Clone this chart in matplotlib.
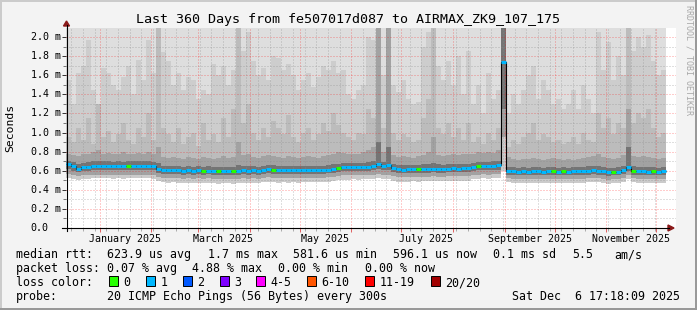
import numpy as np
import matplotlib
matplotlib.use('Agg')
import matplotlib.pyplot as plt
import matplotlib.dates as mdates
from matplotlib.transforms import blended_transform_factory
from matplotlib.patches import Rectangle, Polygon
from matplotlib.lines import Line2D
from datetime import datetime, timedelta

# ---- data (3-day bins, ms) ----
end_time = datetime(2025, 12, 6, 17, 18, 9)
span_days = 360
bin_days = 3

median = [
    0.665, 0.645, 0.622, 0.635, 0.642, 0.648, 0.650, 0.652, 0.650, 0.648, 0.650, 0.648, 0.650, 0.652, 0.650, 0.652, 0.650, 0.648, 0.615, 0.608,
    0.605, 0.608, 0.605, 0.602, 0.605, 0.600, 0.603, 0.598, 0.602, 0.600, 0.596, 0.600, 0.598, 0.595, 0.600, 0.605, 0.600, 0.603, 0.600, 0.608,
    0.618, 0.612, 0.605, 0.608, 0.605, 0.608, 0.605, 0.608, 0.610, 0.608, 0.610, 0.608, 0.612, 0.620, 0.630, 0.635, 0.638, 0.640, 0.638, 0.642,
    0.640, 0.652, 0.665, 0.645, 0.655, 0.625, 0.615, 0.612, 0.615, 0.618, 0.615, 0.620, 0.618, 0.622, 0.620, 0.618, 0.622, 0.625, 0.622, 0.625,
    0.625, 0.640, 0.648, 0.650, 0.648, 0.652, 0.655, 1.740, 0.600, 0.592, 0.590, 0.592, 0.590, 0.595, 0.592, 0.590, 0.592, 0.595, 0.590, 0.592,
    0.590, 0.592, 0.595, 0.592, 0.600, 0.605, 0.600, 0.592, 0.585, 0.588, 0.590, 0.605, 0.640, 0.600, 0.592, 0.595, 0.590, 0.592, 0.590, 0.592,
]
green_bins = [12, 27, 30, 33, 41, 54, 70, 82, 97, 99, 109, 113, 117]

# smoke: upper edges of grey bands (outer -> inner)
smoke_hi4 = [
    1.55, 1.30, 1.62, 1.70, 1.97, 1.45, 1.30, 1.68, 1.62, 1.50, 1.45, 1.58, 1.70, 1.40, 1.76, 1.55, 1.97, 1.62, 2.20, 1.84,
    1.75, 1.50, 1.62, 1.45, 1.58, 1.55, 1.35, 1.45, 1.40, 1.72, 1.60, 1.70, 1.50, 1.65, 2.20, 1.85, 2.05, 1.75, 1.60, 1.68,
    1.55, 1.80, 1.78, 1.65, 1.72, 1.60, 1.45, 1.55, 1.62, 1.48, 1.58, 1.70, 1.65, 1.75, 1.62, 1.65, 1.40, 1.35, 1.45, 1.50,
    2.00, 1.97, 2.20, 1.60, 2.20, 1.50, 1.42, 1.55, 1.35, 1.30, 1.32, 1.90, 2.05, 2.20, 1.70, 1.55, 1.75, 1.50, 1.80, 1.40,
    1.85, 1.30, 1.50, 1.20, 1.62, 1.35, 1.45, 2.20, 1.20, 1.40, 1.30, 1.45, 1.60, 1.70, 1.35, 1.55, 1.45, 1.30, 1.35, 1.25,
    1.30, 1.45, 1.25, 1.50, 1.35, 1.20, 2.05, 1.65, 1.95, 1.55, 1.80, 1.60, 2.20, 1.85, 2.00, 1.90, 2.02, 1.75, 1.60, 1.65,
]
smoke_hi3 = [
    0.95, 0.90, 1.05, 0.92, 1.15, 0.88, 1.30, 0.95, 1.02, 0.90, 0.98, 1.10, 0.92, 0.88, 1.05, 0.95, 1.20, 0.92, 2.20, 1.05,
    0.98, 0.90, 1.05, 0.88, 0.95, 1.00, 0.86, 1.10, 0.92, 0.98, 0.90, 1.15, 0.95, 1.25, 2.20, 1.10, 1.30, 1.00, 0.92, 1.05,
    0.95, 1.12, 1.05, 0.98, 1.18, 0.95, 0.90, 1.00, 1.05, 0.92, 0.98, 1.10, 1.02, 1.20, 1.08, 1.00, 0.95, 0.92, 1.00, 0.98,
    1.25, 1.15, 2.20, 1.05, 2.20, 1.00, 0.92, 0.98, 0.95, 0.90, 0.92, 1.15, 1.35, 2.20, 1.05, 0.98, 1.10, 0.95, 1.05, 0.92,
    1.10, 0.90, 0.95, 0.88, 1.00, 0.92, 1.05, 2.20, 0.85, 0.92, 0.88, 0.95, 1.00, 1.10, 0.92, 0.98, 0.95, 0.90, 0.92, 0.88,
    0.90, 0.95, 0.88, 1.00, 0.92, 0.90, 1.20, 1.05, 1.15, 0.98, 1.10, 1.05, 2.20, 1.10, 1.20, 1.15, 1.25, 1.05, 0.95, 1.00,
]
smoke_hi2 = [
    0.78, 0.76, 0.75, 0.77, 0.78, 0.80, 0.82, 0.78, 0.79, 0.77, 0.78, 0.80, 0.78, 0.77, 0.79, 0.78, 0.80, 0.78, 0.85, 0.74,
    0.73, 0.74, 0.73, 0.72, 0.74, 0.73, 0.72, 0.74, 0.73, 0.72, 0.73, 0.75, 0.73, 0.74, 0.90, 0.76, 0.78, 0.74, 0.73, 0.75,
    0.76, 0.75, 0.74, 0.73, 0.75, 0.74, 0.73, 0.74, 0.75, 0.74, 0.73, 0.75, 0.76, 0.78, 0.80, 0.79, 0.78, 0.77, 0.78, 0.80,
    0.82, 0.85, 2.20, 0.80, 2.20, 0.76, 0.74, 0.75, 0.74, 0.73, 0.75, 0.76, 0.80, 0.95, 0.76, 0.75, 0.76, 0.77, 0.76, 0.77,
    0.77, 0.78, 0.80, 0.79, 0.80, 0.79, 0.82, 2.20, 0.74, 0.72, 0.71, 0.72, 0.72, 0.73, 0.72, 0.71, 0.72, 0.73, 0.72, 0.71,
    0.72, 0.71, 0.72, 0.73, 0.74, 0.75, 0.78, 0.74, 0.73, 0.72, 0.73, 0.76, 1.25, 0.75, 0.74, 0.75, 0.74, 0.73, 0.72, 0.73,
]
smoke_hi1 = [
    0.70, 0.69, 0.67, 0.68, 0.69, 0.70, 0.70, 0.70, 0.70, 0.69, 0.70, 0.69, 0.70, 0.70, 0.70, 0.70, 0.70, 0.69, 0.68, 0.65,
    0.645, 0.65, 0.645, 0.64, 0.645, 0.64, 0.645, 0.64, 0.645, 0.64, 0.635, 0.64, 0.64, 0.635, 0.66, 0.645, 0.645, 0.645, 0.64, 0.65,
    0.66, 0.655, 0.645, 0.65, 0.645, 0.65, 0.645, 0.65, 0.65, 0.65, 0.65, 0.65, 0.655, 0.665, 0.675, 0.68, 0.68, 0.68, 0.68, 0.685,
    0.69, 0.70, 0.90, 0.69, 0.85, 0.67, 0.655, 0.655, 0.66, 0.66, 0.655, 0.665, 0.665, 0.68, 0.665, 0.66, 0.665, 0.67, 0.665, 0.67,
    0.67, 0.685, 0.695, 0.695, 0.69, 0.70, 0.70, 2.20, 0.64, 0.635, 0.63, 0.635, 0.63, 0.635, 0.635, 0.63, 0.635, 0.64, 0.63, 0.635,
    0.63, 0.635, 0.64, 0.635, 0.645, 0.65, 0.645, 0.635, 0.63, 0.63, 0.635, 0.65, 0.85, 0.645, 0.635, 0.64, 0.635, 0.635, 0.63, 0.635,
]
# smoke: lower edges (inner -> outer)
smoke_lo1 = [
    0.62, 0.60, 0.585, 0.595, 0.60, 0.605, 0.61, 0.61, 0.61, 0.605, 0.61, 0.605, 0.61, 0.61, 0.61, 0.61, 0.61, 0.605, 0.575, 0.57,
    0.565, 0.57, 0.565, 0.56, 0.565, 0.56, 0.565, 0.56, 0.565, 0.56, 0.555, 0.56, 0.56, 0.555, 0.56, 0.565, 0.56, 0.565, 0.56, 0.57,
    0.575, 0.57, 0.565, 0.57, 0.565, 0.57, 0.565, 0.57, 0.57, 0.57, 0.57, 0.57, 0.575, 0.58, 0.59, 0.595, 0.595, 0.60, 0.595, 0.60,
    0.60, 0.61, 0.62, 0.605, 0.61, 0.585, 0.575, 0.575, 0.575, 0.58, 0.575, 0.58, 0.58, 0.585, 0.58, 0.58, 0.585, 0.585, 0.585, 0.585,
    0.585, 0.60, 0.605, 0.61, 0.605, 0.61, 0.61, 1.25, 0.56, 0.555, 0.55, 0.555, 0.55, 0.555, 0.555, 0.55, 0.555, 0.555, 0.55, 0.555,
    0.55, 0.555, 0.555, 0.555, 0.56, 0.565, 0.56, 0.555, 0.545, 0.55, 0.55, 0.565, 0.60, 0.56, 0.555, 0.555, 0.55, 0.555, 0.55, 0.555,
]
smoke_lo2 = [
    0.57, 0.555, 0.545, 0.55, 0.555, 0.56, 0.56, 0.56, 0.56, 0.555, 0.56, 0.555, 0.56, 0.56, 0.56, 0.56, 0.56, 0.555, 0.53, 0.525,
    0.52, 0.525, 0.52, 0.515, 0.52, 0.515, 0.52, 0.515, 0.52, 0.515, 0.51, 0.515, 0.515, 0.51, 0.515, 0.52, 0.515, 0.52, 0.515, 0.525,
    0.53, 0.525, 0.52, 0.525, 0.52, 0.525, 0.52, 0.525, 0.525, 0.525, 0.525, 0.525, 0.53, 0.535, 0.545, 0.55, 0.55, 0.555, 0.55, 0.555,
    0.555, 0.56, 0.57, 0.555, 0.56, 0.54, 0.53, 0.53, 0.53, 0.535, 0.53, 0.535, 0.535, 0.54, 0.535, 0.535, 0.54, 0.54, 0.54, 0.54,
    0.54, 0.555, 0.56, 0.565, 0.56, 0.565, 0.565, 0.95, 0.52, 0.515, 0.51, 0.515, 0.51, 0.515, 0.515, 0.51, 0.515, 0.515, 0.51, 0.515,
    0.51, 0.515, 0.515, 0.515, 0.52, 0.525, 0.52, 0.515, 0.505, 0.51, 0.51, 0.525, 0.555, 0.52, 0.515, 0.515, 0.51, 0.515, 0.51, 0.515,
]
smoke_lo3 = [
    0.525, 0.515, 0.505, 0.51, 0.515, 0.52, 0.52, 0.52, 0.52, 0.515, 0.52, 0.515, 0.52, 0.52, 0.52, 0.52, 0.52, 0.515, 0.49, 0.48,
    0.475, 0.48, 0.475, 0.47, 0.475, 0.47, 0.475, 0.47, 0.475, 0.47, 0.465, 0.47, 0.47, 0.465, 0.47, 0.475, 0.47, 0.475, 0.47, 0.48,
    0.485, 0.48, 0.475, 0.48, 0.475, 0.48, 0.475, 0.48, 0.48, 0.48, 0.48, 0.48, 0.485, 0.49, 0.50, 0.505, 0.505, 0.51, 0.505, 0.51,
    0.51, 0.515, 0.52, 0.51, 0.515, 0.495, 0.485, 0.485, 0.485, 0.49, 0.485, 0.49, 0.49, 0.495, 0.49, 0.49, 0.495, 0.495, 0.495, 0.495,
    0.495, 0.51, 0.515, 0.52, 0.515, 0.52, 0.52, 0.60, 0.48, 0.475, 0.47, 0.475, 0.47, 0.475, 0.475, 0.47, 0.475, 0.475, 0.47, 0.475,
    0.47, 0.475, 0.475, 0.475, 0.48, 0.485, 0.48, 0.475, 0.465, 0.47, 0.47, 0.485, 0.51, 0.48, 0.475, 0.475, 0.47, 0.475, 0.47, 0.475,
]

loss_labels = ['0', '1', '2', '3', '4-5', '6-10', '11-19', '20/20']
loss_colors = ['#26ff00', '#00b8ff', '#0059ff', '#7e00ff', '#ff00ff', '#ff5500', '#ff0000', '#a10000']

title = 'Last 360 Days from fe507017d087 to AIRMAX_ZK9_107_175'
stats_rtt = ['median rtt:', '623.9 us avg', '1.7 ms max', '581.6 us min', '596.1 us now', '0.1 ms sd', '5.5', 'am/s']
stats_loss = ['packet loss:', '0.07 % avg', '4.88 % max', '0.00 % min', '0.00 % now']
probe_text = '20 ICMP Echo Pings (56 Bytes) every 300s'

# ---- layout ----
W, H = 697, 310
MONO = 'DejaVu Sans Mono'
def fx(x): return x / W
def fy(y): return 1 - y / H

fig = plt.figure(figsize=(W / 100, H / 100), dpi=100, facecolor='#f3f3f3')
ax = fig.add_axes([fx(66), fy(228), 610 / W, 200 / H])
ax.set_facecolor('white')

start = end_time - timedelta(days=span_days)
t0 = mdates.date2num(start)
t1 = mdates.date2num(end_time)
edges = t0 + bin_days * np.arange(len(median) + 1)
ax.set_xlim(t0, t0 + span_days * 610 / 600)
ax.set_ylim(0, 200 / 95.5)

# smoke, painted outer to inner
ax.fill_between([t0, t1], 0, 2.2, color='#dedede', lw=0, zorder=1)
for vals, col in [(smoke_hi4, '#cdcdcd'), (smoke_hi3, '#bcbcbc'), (smoke_hi2, '#a2a2a2'),
                  (smoke_hi1, '#747474'), (smoke_lo1, '#a2a2a2'), (smoke_lo2, '#cbcbcb'),
                  (smoke_lo3, 'white')]:
    ax.stairs(vals, edges, baseline=0, fill=True, color=col, lw=0, zorder=1)

# grid
minor_c = (0.55, 0.55, 0.55, 0.55)
major_c = (1.0, 0.0, 0.0, 0.4)
dots = (0, (1, 2))
for k in range(1, 21):
    ax.axhline(k * 0.1, color=major_c if k % 2 == 0 else minor_c, lw=0.72, ls=dots, zorder=2)
month_starts = [datetime(2025, m, 1) for m in range(1, 13)]
sundays = []
d = datetime(2024, 12, 15)
while d < end_time:
    sundays.append(d)
    d += timedelta(days=7)
for d in sundays:
    if d.day != 1:
        ax.axvline(mdates.date2num(d), color=minor_c, lw=0.72, ls=dots, zorder=2)
for d in month_starts:
    ax.axvline(mdates.date2num(d), color=major_c, lw=0.72, ls=dots, zorder=2)

# median line coloured by loss
ax.stairs(median, edges, baseline=None, color='black', lw=0.8, zorder=3)
seg_colors = [loss_colors[0] if i in green_bins else loss_colors[1] for i in range(len(median))]
ax.hlines(median, edges[:-1], edges[1:], colors=seg_colors, lw=2.2, zorder=4)

# ticks
for s in ax.spines.values():
    s.set_visible(False)
ax.set_yticks(np.arange(0, 2.01, 0.2))
ax.set_yticks(np.arange(0.1, 2.01, 0.2), minor=True)
ax.set_xticks([mdates.date2num(d) for d in month_starts])
ax.set_xticks([mdates.date2num(d) for d in sundays], minor=True)
ax.tick_params(which='both', labelleft=False, labelbottom=False, direction='out', width=0.7)
ax.tick_params(axis='y', which='major', length=3, color='#333333')
ax.tick_params(axis='y', which='minor', length=2, color='#777777')
ax.tick_params(axis='x', which='major', length=3, color='#e06060')
ax.tick_params(axis='x', which='minor', length=2, color='#aaaaaa')

# axes with arrows
fig.add_artist(Line2D([fx(62), fx(669)], [fy(228), fy(228)], color='black', lw=0.8, transform=fig.transFigure))
fig.add_artist(Line2D([fx(66.5), fx(66.5)], [fy(231), fy(25)], color='black', lw=0.8, transform=fig.transFigure))
arrow_c = '#8b1a1a'
fig.add_artist(Polygon([(fx(63.5), fy(26)), (fx(69.5), fy(26)), (fx(66.5), fy(21))], closed=True,
                       color=arrow_c, transform=fig.transFigure))
fig.add_artist(Polygon([(fx(668), fy(225)), (fx(668), fy(231)), (fx(674), fy(228))], closed=True,
                       color=arrow_c, transform=fig.transFigure))

# tick labels
ytr = blended_transform_factory(fig.transFigure, ax.transData)
for v in np.arange(0, 2.01, 0.2):
    lab = '%.1f m' % v if v > 0.01 else '0.0'
    fig.text(fx(30.5), v, lab, transform=ytr, ha='left', va='center', family=MONO, size=7.2)
xtr = blended_transform_factory(ax.transData, fig.transFigure)
for m in [1, 3, 5, 7, 9, 11]:
    mid = datetime(2025, m, 1) + timedelta(days=15)
    fig.text(mdates.date2num(mid), fy(241.7), mid.strftime('%B %Y'), transform=xtr,
             ha='center', va='baseline', family=MONO, size=7.2)

fig.text(fx(10), fy(128), 'Seconds', rotation=90, ha='center', va='center', family=MONO, size=8.2)
fig.text(0.5, fy(22.5), title, ha='center', va='baseline', family=MONO, size=9.6)
fig.text(fx(689), fy(5), 'RRDTOOL / TOBI OETIKER', rotation=270, ha='center', va='top',
         family=MONO, size=6, color='#a8a8a8')

# legend block
LS = 8.4
for txt, x in zip(stats_rtt, [16, 107, 207.7, 293.3, 393.3, 493.3, 572.3, 614]):
    fig.text(fx(x), fy(258), txt, ha='left', va='baseline', family=MONO, size=LS)
for txt, x in zip(stats_loss, [16, 107.3, 191.7, 278.3, 365]):
    fig.text(fx(x), fy(272), txt, ha='left', va='baseline', family=MONO, size=LS)
fig.text(fx(16), fy(286), 'loss color:', ha='left', va='baseline', family=MONO, size=LS)
box_x = [108.7, 145.7, 182.7, 219.5, 256.3, 306.7, 365.3, 430.7]
for lab, col, x in zip(loss_labels, loss_colors, box_x):
    fig.add_artist(Rectangle((fx(x), fy(286)), 9 / W, 10 / H, facecolor=col, edgecolor='black',
                             lw=0.7, transform=fig.transFigure))
    fig.text(fx(x + 14.5), fy(286), lab, ha='left', va='baseline', family=MONO, size=LS)
fig.text(fx(16), fy(300), 'probe:', ha='left', va='baseline', family=MONO, size=LS)
fig.text(fx(107.3), fy(300), probe_text, ha='left', va='baseline', family=MONO, size=LS)
fig.text(fx(680), fy(300), end_time.strftime('%a %b ') + '%2d' % end_time.day + end_time.strftime(' %H:%M:%S %Y'),
         ha='right', va='baseline', family=MONO, size=LS)

# frame shading
for (x, y, w, h, c) in [(0, 0, W, 2, '#cbcbcb'), (0, 0, 2, H, '#cbcbcb'),
                        (0, H - 2, W, 2, '#999999'), (W - 2, 0, 2, H, '#999999')]:
    fig.add_artist(Rectangle((fx(x), fy(y + h)), w / W, h / H, facecolor=c, lw=0, transform=fig.transFigure))

fig.savefig('out.png', dpi=100, facecolor=fig.get_facecolor())
